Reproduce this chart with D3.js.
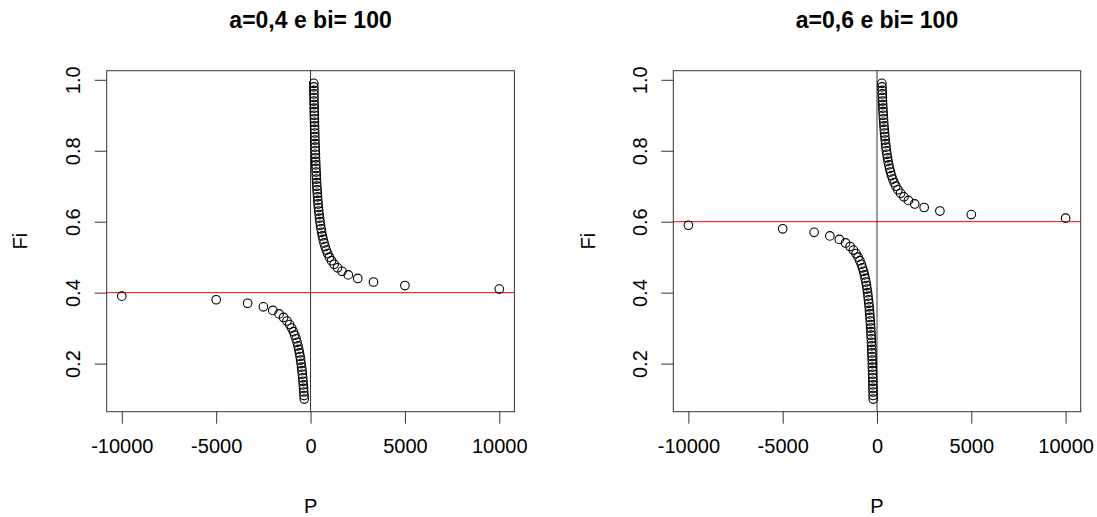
<!DOCTYPE html>
<html>
<head>
<meta charset="utf-8">
<script src="https://cdn.jsdelivr.net/npm/d3@7"></script>
<style>
  html, body { margin: 0; padding: 0; background: #fff; }
  svg { display: block; font-family: "Liberation Sans", Arial, sans-serif; }
</style>
</head>
<body>
<svg id="chart" width="1097" height="517"></svg>
<script>
// ---- data ----
const titles = ["a=0,4 e bi= 100", "a=0,6 e bi= 100"];
const aValues = [0.4, 0.6];
const xTicks = [-10000, -5000, 0, 5000, 10000];
const xTickLabels = ["-10000", "-5000", "0", "5000", "10000"];
const yTicks = [0.2, 0.4, 0.6, 0.8, 1.0];
const yTickLabels = ["0.2", "0.4", "0.6", "0.8", "1.0"];
const xLabel = "P";
const yLabel = "Fi";

const fiLeft = [0.10,0.11,0.12,0.13,0.14,0.15,0.16,0.17,0.18,0.19,0.20,0.21,0.22,0.23,0.24,0.25,0.26,0.27,0.28,0.29,0.30,0.31,0.32,0.33,0.34,0.35,0.36,0.37,0.38,0.39,
  0.41,0.42,0.43,0.44,0.45,0.46,0.47,0.48,0.49,0.50,0.51,0.52,0.53,0.54,0.55,0.56,0.57,0.58,0.59,0.60,0.61,0.62,0.63,0.64,0.65,0.66,0.67,0.68,0.69,0.70,
  0.71,0.72,0.73,0.74,0.75,0.76,0.77,0.78,0.79,0.80,0.81,0.82,0.83,0.84,0.85,0.86,0.87,0.88,0.89,0.90,0.91,0.92,0.93,0.94,0.95,0.96,0.97,0.98,0.99];
const pLeft = [-333.3,-344.8,-357.1,-370.4,-384.6,-400,-416.7,-434.8,-454.5,-476.2,-500,-526.3,-555.6,-588.2,-625,-666.7,-714.3,-769.2,-833.3,-909.1,-1000,-1111.1,-1250,-1428.6,-1666.7,-2000,-2500,-3333.3,-5000,-10000,
  10000,5000,3333.3,2500,2000,1666.7,1428.6,1250,1111.1,1000,909.1,833.3,769.2,714.3,666.7,625,588.2,555.6,526.3,500,476.2,454.5,434.8,416.7,400,384.6,370.4,357.1,344.8,333.3,
  322.6,312.5,303.0,294.1,285.7,277.8,270.3,263.2,256.4,250,243.9,238.1,232.6,227.3,222.2,217.4,212.8,208.3,204.1,200,196.1,192.3,188.7,185.2,181.8,178.6,175.4,172.4,169.5];

const fiRight = [0.10,0.11,0.12,0.13,0.14,0.15,0.16,0.17,0.18,0.19,0.20,0.21,0.22,0.23,0.24,0.25,0.26,0.27,0.28,0.29,0.30,0.31,0.32,0.33,0.34,0.35,0.36,0.37,0.38,0.39,
  0.40,0.41,0.42,0.43,0.44,0.45,0.46,0.47,0.48,0.49,0.50,0.51,0.52,0.53,0.54,0.55,0.56,0.57,0.58,0.59,
  0.61,0.62,0.63,0.64,0.65,0.66,0.67,0.68,0.69,0.70,0.71,0.72,0.73,0.74,0.75,0.76,0.77,0.78,0.79,0.80,0.81,0.82,0.83,0.84,0.85,0.86,0.87,0.88,0.89,0.90,
  0.91,0.92,0.93,0.94,0.95,0.96,0.97,0.98,0.99];
const pRight = [-200,-204.1,-208.3,-212.8,-217.4,-222.2,-227.3,-232.6,-238.1,-243.9,-250,-256.4,-263.2,-270.3,-277.8,-285.7,-294.1,-303.0,-312.5,-322.6,-333.3,-344.8,-357.1,-370.4,-384.6,-400,-416.7,-434.8,-454.5,-476.2,
  -500,-526.3,-555.6,-588.2,-625,-666.7,-714.3,-769.2,-833.3,-909.1,-1000,-1111.1,-1250,-1428.6,-1666.7,-2000,-2500,-3333.3,-5000,-10000,
  10000,5000,3333.3,2500,2000,1666.7,1428.6,1250,1111.1,1000,909.1,833.3,769.2,714.3,666.7,625,588.2,555.6,526.3,500,476.2,454.5,434.8,416.7,400,384.6,370.4,357.1,344.8,333.3,
  322.6,312.5,303.0,294.1,285.7,277.8,270.3,263.2,256.4];

const panelsFi = [fiLeft, fiRight];
const panelsP = [pLeft, pRight];

// ---- layout ----
const svg = d3.select("#chart");
const panelBoxes = [
  { left: 106.7, right: 514.4, top: 70.7, bottom: 411.7, tickLabelX: 80, yLabelX: 26.7 },
  { left: 673.3, right: 1080.7, top: 70.7, bottom: 411.7, tickLabelX: 647.3, yLabelX: 595 }
];
const lineCol = "#333";

panelBoxes.forEach((b, i) => {
  const x = d3.scaleLinear().domain([-10800, 10800]).range([b.left, b.right]);
  const y = d3.scaleLinear().domain([0.0644, 1.0256]).range([b.bottom, b.top]);
  const g = svg.append("g");

  // x axis
  const xa = g.append("g").attr("transform", `translate(0,${b.bottom})`)
    .call(d3.axisBottom(x).tickValues(xTicks).tickSize(12).tickPadding(15).tickFormat((d, k) => xTickLabels[k]));
  xa.select(".domain").remove();
  xa.selectAll(".tick line").attr("stroke", lineCol);
  xa.selectAll(".tick text").attr("font-size", 20).attr("fill", "#000")
    .attr("font-family", "'Liberation Sans', Arial, sans-serif");

  // y axis
  const ya = g.append("g").attr("transform", `translate(${b.left},0)`)
    .call(d3.axisLeft(y).tickValues(yTicks).tickSize(12).tickFormat((d, k) => yTickLabels[k]));
  ya.select(".domain").remove();
  ya.selectAll(".tick line").attr("stroke", lineCol);
  ya.selectAll(".tick text")
    .attr("font-size", 20).attr("fill", "#000")
    .attr("font-family", "'Liberation Sans', Arial, sans-serif")
    .attr("text-anchor", "middle")
    .attr("x", 0).attr("dy", null)
    .attr("y", b.tickLabelX - b.left)
    .attr("transform", "rotate(-90)");

  // box
  g.append("rect")
    .attr("x", b.left).attr("y", b.top)
    .attr("width", b.right - b.left).attr("height", b.bottom - b.top)
    .attr("fill", "none").attr("stroke", lineCol).attr("stroke-width", 1);

  // reference lines
  g.append("line")
    .attr("x1", b.left).attr("x2", b.right)
    .attr("y1", y(aValues[i])).attr("y2", y(aValues[i]))
    .attr("stroke", "#ff0000").attr("stroke-width", 1);
  g.append("line")
    .attr("x1", x(0)).attr("x2", x(0))
    .attr("y1", b.top).attr("y2", b.bottom)
    .attr("stroke", lineCol).attr("stroke-width", 1);

  // points
  const pts = panelsFi[i].map((f, k) => ({ fi: f, p: panelsP[i][k] }));
  g.append("g").selectAll("circle").data(pts).join("circle")
    .attr("cx", d => x(d.p)).attr("cy", d => y(d.fi)).attr("r", 4.3)
    .attr("fill", "none").attr("stroke", "#000").attr("stroke-width", 1.1);

  // title
  g.append("text")
    .attr("x", (b.left + b.right) / 2).attr("y", 28)
    .attr("text-anchor", "middle").attr("font-size", 23).attr("font-weight", "bold")
    .text(titles[i]);

  // axis labels
  g.append("text")
    .attr("x", (b.left + b.right) / 2).attr("y", 513)
    .attr("text-anchor", "middle").attr("font-size", 20)
    .text(xLabel);
  g.append("text")
    .attr("transform", `translate(${b.yLabelX},${(b.top + b.bottom) / 2}) rotate(-90)`)
    .attr("text-anchor", "middle").attr("font-size", 20)
    .text(yLabel);
});
</script>
</body>
</html>
